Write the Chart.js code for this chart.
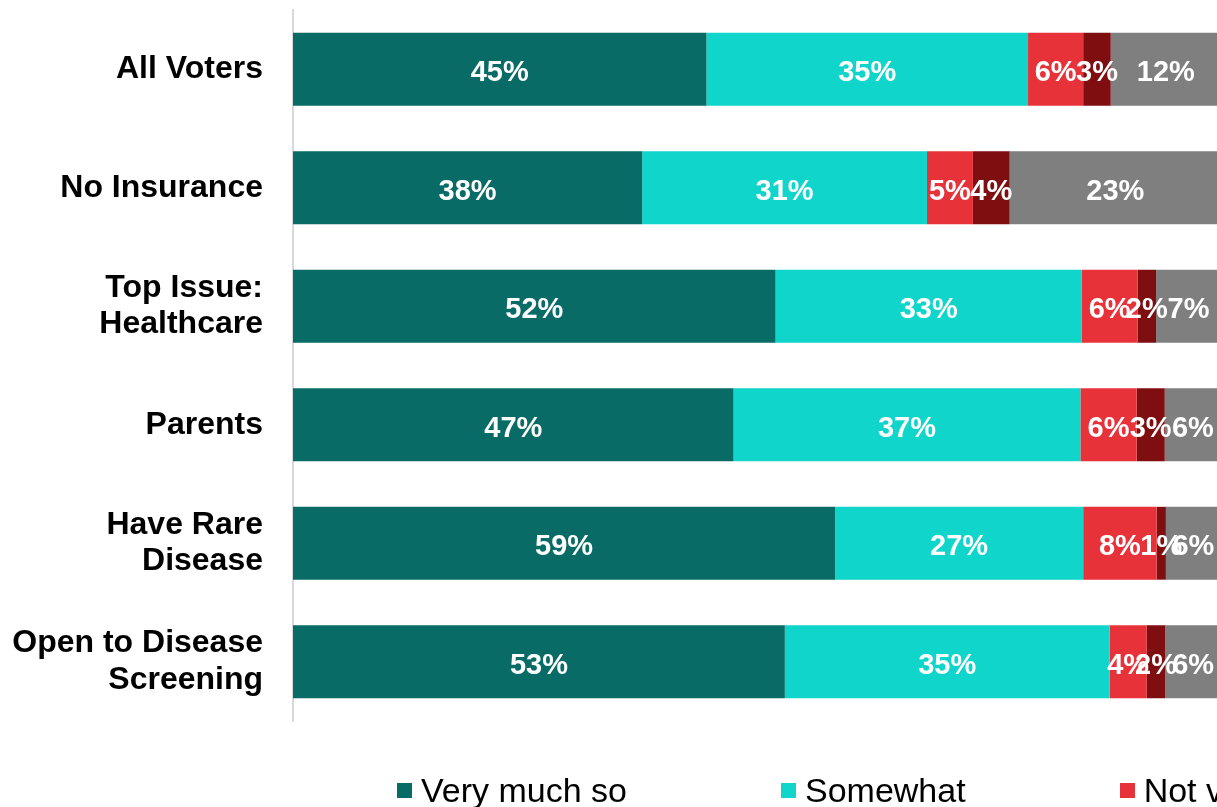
<!DOCTYPE html>
<html>
<head>
<meta charset="utf-8">
<script src="https://cdn.jsdelivr.net/npm/chart.js@4.4.1/dist/chart.umd.min.js"></script>
<style>
  html, body { margin: 0; padding: 0; background: #fff; overflow: hidden; }
  #wrap { position: relative; width: 1230px; height: 807px; }
  #legend {
    position: absolute; left: 397px; top: 771px;
    display: flex; white-space: nowrap;
    font-family: "Liberation Sans", Arial, sans-serif; font-size: 34px; color: #000;
  }
  #legend .item { display: flex; align-items: center; margin-right: 154px; }
  #legend .box { width: 15px; height: 15px; margin-right: 9px; }
</style>
</head>
<body>
<div id="wrap">
  <canvas id="chart"></canvas>
  <div id="legend"></div>
</div>
<script>
// values (each row is shown as a 100% stacked bar)
const categories = ['All Voters', 'No Insurance', ['Top Issue:', 'Healthcare'], 'Parents',
  ['Have Rare', 'Disease'], ['Open to Disease', 'Screening']];
const seriesNames = ['Very much so', 'Somewhat', 'Not very much', 'Not at all', 'Not sure'];
const veryMuch = [45, 38, 52, 47, 59, 53];
const somewhat = [35, 31, 33, 37, 27, 35];
const notVery  = [6, 5, 6, 6, 8, 4];
const notAtAll = [3, 4, 2, 3, 1, 2];
const notSure  = [12, 23, 7, 6, 6, 6];
const colors = ['#096b66', '#10d5cb', '#e8323a', '#7f0e10', '#7f7f7f'];

const series = [veryMuch, somewhat, notVery, notAtAll, notSure];
const rowTotals = categories.map((c, i) => series.reduce((s, arr) => s + arr[i], 0));

const FONT = '"Liberation Sans", Arial, sans-serif';

// white % labels centred in each segment
const segmentLabels = {
  id: 'segmentLabels',
  afterDatasetsDraw(chart) {
    const ctx = chart.ctx;
    ctx.save();
    ctx.font = 'bold 29px ' + FONT;
    ctx.fillStyle = '#fff';
    ctx.textAlign = 'center';
    ctx.textBaseline = 'middle';
    chart.data.datasets.forEach((ds, di) => {
      chart.getDatasetMeta(di).data.forEach((bar, i) => {
        const x = (bar.x + bar.base) / 2;
        ctx.fillText(ds.raw[i] + '%', x, bar.y + 4);
      });
    });
    ctx.restore();
  }
};

const datasets = series.map((arr, k) => ({
  label: seriesNames[k],
  raw: arr,
  data: arr.map((v, i) => v / rowTotals[i] * 100),
  backgroundColor: colors[k],
  borderWidth: 0,
  categoryPercentage: 1,
  barPercentage: 0.615
}));

new Chart(document.getElementById('chart'), {
  type: 'bar',
  data: { labels: categories, datasets: datasets },
  plugins: [segmentLabels],
  options: {
    indexAxis: 'y',
    responsive: true,
    maintainAspectRatio: false,
    animation: false,
    layout: { padding: { top: 10, bottom: 86, right: 9, left: 0 } },
    plugins: {
      legend: { display: false },
      tooltip: { enabled: false }
    },
    scales: {
      x: {
        stacked: true,
        min: 0,
        max: 100,
        display: false
      },
      y: {
        stacked: true,
        afterFit(scale) {
          scale.width = 293;
          scale.paddingTop = 0;
          scale.paddingBottom = 0;
        },
        grid: { display: false, drawTicks: false },
        border: { display: true, color: '#d9d9d9', width: 2 },
        ticks: {
          autoSkip: false,
          padding: 30,
          color: '#000',
          font: { family: FONT, size: 32, weight: 'bold', lineHeight: 1.15 }
        }
      }
    }
  }
});

// legend row (cropped at the right like the source)
const legendEl = document.getElementById('legend');
seriesNames.forEach((name, k) => {
  const item = document.createElement('div');
  item.className = 'item';
  item.innerHTML = '<span class="box" style="background:' + colors[k] + '"></span><span>' + name + '</span>';
  legendEl.appendChild(item);
});
</script>
</body>
</html>
